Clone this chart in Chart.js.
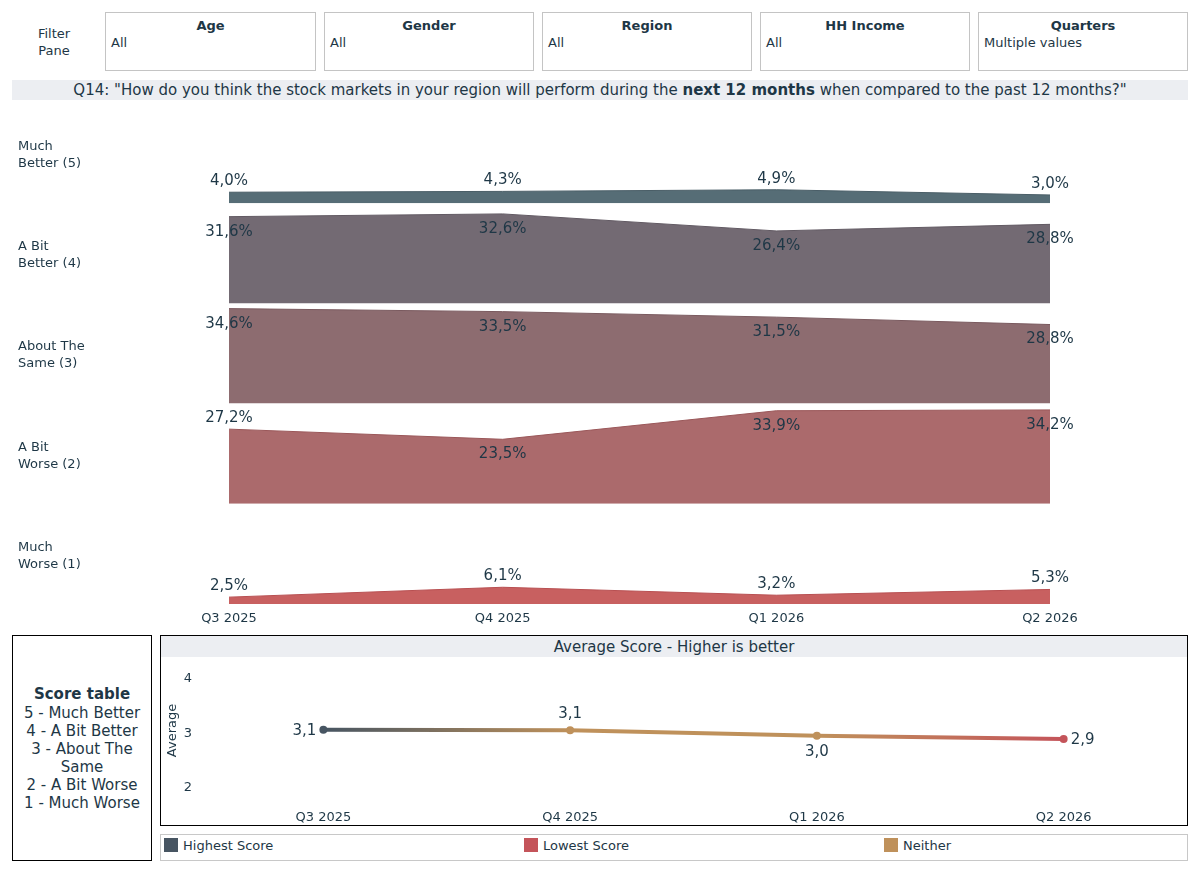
<!DOCTYPE html>
<html>
<head>
<meta charset="utf-8">
<script src="https://cdn.jsdelivr.net/npm/chart.js@4.4.1/dist/chart.umd.min.js"></script>
<style>
  body { margin:0; width:1199px; height:872px; position:relative; background:#fff; font-family:'DejaVu Sans', sans-serif; color:#1e3746; overflow:hidden; }
  .filter { position:absolute; top:12px; height:57px; border:1px solid #c4c4c4; }
  .filter .t { font-weight:bold; font-size:13px; line-height:16px; text-align:center; margin-top:5px; }
  .filter .v { font-size:13px; line-height:16px; margin-top:1px; padding-left:5px; }
  #pane { position:absolute; left:22px; top:25px; width:64px; text-align:center; font-size:13px; line-height:17px; }
  #title { position:absolute; left:12px; top:80px; width:1176px; height:20px; background:#eceef2; font-size:15px; line-height:20px; text-align:center; }
  #scoreBox { position:absolute; left:12px; top:635px; width:138px; height:224px; border:1px solid #000; text-align:center; font-size:15px; line-height:18px; }
  #scoreBox .h { font-weight:bold; line-height:19px; }
  #avgBox { position:absolute; left:160px; top:635px; width:1026px; height:189px; border:1px solid #000; }
  #avgHead { height:21px; background:#eceef2; font-size:15px; line-height:23px; text-align:center; }
  #legend { position:absolute; left:160px; top:834px; width:1026px; height:25px; border:1px solid #c8c8c8; font-size:13px; }
  .item { position:absolute; top:3px; height:14px; line-height:15px; }
  .sw { display:inline-block; width:14px; height:14px; vertical-align:top; margin-right:5px; }
</style>
</head>
<body>
<div id="pane">Filter<br>Pane</div>
<div class="filter" style="left:105px;width:209px"><div class="t">Age</div><div class="v">All</div></div>
<div class="filter" style="left:324px;width:208px"><div class="t">Gender</div><div class="v">All</div></div>
<div class="filter" style="left:542px;width:208px"><div class="t">Region</div><div class="v">All</div></div>
<div class="filter" style="left:760px;width:208px"><div class="t">HH Income</div><div class="v">All</div></div>
<div class="filter" style="left:978px;width:208px"><div class="t">Quarters</div><div class="v">Multiple values</div></div>
<div id="title">Q14: "How do you think the stock markets in your region will perform during the <b>next 12 months</b> when compared to the past 12 months?"</div>

<canvas id="rows" width="1176" height="530" style="position:absolute;left:12px;top:103px"></canvas>

<div id="scoreBox"><div style="height:49px"></div><div class="h">Score table</div>5 - Much Better<br>4 - A Bit Better<br>3 - About The Same<br>2 - A Bit Worse<br>1 - Much Worse</div>
<div id="avgBox">
  <div id="avgHead">Average Score - Higher is better</div>
  <canvas id="avg" width="1030" height="167" style="display:block"></canvas>
</div>
<div id="legend"></div>

<script>
// data
const quarters = ['Q3 2025', 'Q4 2025', 'Q1 2026', 'Q2 2026'];
const rowLabels = [['Much', 'Better (5)'], ['A Bit', 'Better (4)'], ['About The', 'Same (3)'], ['A Bit', 'Worse (2)'], ['Much', 'Worse (1)']];
const muchBetter = [4.0, 4.3, 4.9, 3.0];
const aBitBetter = [31.6, 32.6, 26.4, 28.8];
const aboutSame = [34.6, 33.5, 31.5, 28.8];
const aBitWorse = [27.2, 23.5, 33.9, 34.2];
const muchWorse = [2.5, 6.1, 3.2, 5.3];
const averageScore = [3.07, 3.06, 2.96, 2.90];
const avgTicks = [2, 3, 4];
const legendNames = ['Highest Score', 'Lowest Score', 'Neither'];

// styles
const TEXT = '#1e3746';
const HIGH = '#475562', LOW = '#c4545a', NEITHER = '#bf915b';
const rowFill = ['#566d76', '#736a73', '#8d6c70', '#ab6a6c', '#c86060'];
const rowLine = ['#4a5e67', '#625a63', '#7a5a5f', '#9a5759', '#b85052'];
const ROW_MAX = 36.5;

Chart.defaults.font.family = "'DejaVu Sans', sans-serif";
Chart.defaults.color = TEXT;

const fmt = v => v.toFixed(1).replace('.', ',');
const noPad = ax => { ax.paddingTop = 0; ax.paddingBottom = 0; ax.paddingLeft = 0; ax.paddingRight = 0; };

// legend
const legendColors = [HIGH, LOW, NEITHER];
document.getElementById('legend').innerHTML = legendNames.map((n, i) =>
  '<div class="item" style="left:' + (3 + i * 360) + 'px"><span class="sw" style="background:' + legendColors[i] + '"></span>' + n + '</div>'
).join('');

// ridge rows
const rowSeries = [muchBetter, aBitBetter, aboutSame, aBitWorse, muchWorse];

const pctLabels = {
  id: 'pctLabels',
  afterDatasetsDraw(chart) {
    const ctx = chart.ctx;
    ctx.save();
    ctx.font = "15px 'DejaVu Sans'";
    ctx.fillStyle = TEXT;
    ctx.textAlign = 'center';
    ctx.textBaseline = 'middle';
    chart.data.datasets.forEach((ds, i) => {
      const sc = chart.scales[ds.yAxisID];
      chart.getDatasetMeta(i).data.forEach((pt, j) => {
        const v = ds.data[j];
        const interior = j > 0 && j < ds.data.length - 1;
        const localMin = interior && v < ds.data[j - 1] && v < ds.data[j + 1];
        const roomAbove = pt.y - 23 >= sc.top;
        const below = (localMin && sc.bottom - pt.y > 30) ? true : !roomAbove;
        ctx.fillText(fmt(v) + '%', pt.x, below ? pt.y + 15 : pt.y - 11);
      });
    });
    ctx.restore();
  }
};

const rowScales = {
  x: {
    type: 'category',
    offset: false,
    grid: { display: false, drawTicks: false },
    border: { display: false },
    ticks: { padding: 7, font: { size: 13 }, maxRotation: 0 },
    afterFit: ax => { ax.height = 29; }
  }
};
rowSeries.forEach((s, i) => {
  rowScales['r' + i] = {
    type: 'linear',
    position: 'left',
    stack: 'rows',
    stackWeight: 1,
    weight: 10 - i,
    min: 0,
    max: ROW_MAX,
    grid: { display: false, drawTicks: false },
    border: { display: false },
    afterBuildTicks: ax => { ax.ticks = [{ value: ROW_MAX / 2 }]; },
    afterFit: ax => { ax.width = 211; noPad(ax); },
    ticks: {
      crossAlign: 'far',
      padding: 0,
      labelOffset: 2,
      font: { size: 13, lineHeight: 1.3 },
      callback: () => rowLabels[i]
    }
  };
});

new Chart(document.getElementById('rows'), {
  type: 'line',
  data: {
    labels: quarters,
    datasets: rowSeries.map((s, i) => ({
      data: s,
      yAxisID: 'r' + i,
      fill: 'origin',
      backgroundColor: rowFill[i],
      borderColor: rowLine[i],
      borderWidth: 1,
      pointRadius: 0,
      tension: 0
    }))
  },
  options: {
    responsive: false,
    animation: false,
    layout: { padding: { left: 6, right: 138, top: 0, bottom: 0 } },
    scales: rowScales,
    plugins: { legend: { display: false }, tooltip: { enabled: false } }
  },
  plugins: [pctLabels]
});

// average score
const hi = Math.max(...averageScore), lo = Math.min(...averageScore);
const avgColors = averageScore.map(v => v === hi ? HIGH : v === lo ? LOW : NEITHER);

const avgLabels = {
  id: 'avgLabels',
  afterDatasetsDraw(chart) {
    const ctx = chart.ctx;
    const d = averageScore;
    ctx.save();
    ctx.font = "15px 'DejaVu Sans'";
    ctx.fillStyle = TEXT;
    ctx.textBaseline = 'middle';
    chart.getDatasetMeta(0).data.forEach((pt, i) => {
      const txt = fmt(d[i]);
      if (i === 0) {
        ctx.textAlign = 'right';
        ctx.fillText(txt, pt.x - 7, pt.y + 1);
      } else if (i === d.length - 1) {
        ctx.textAlign = 'left';
        ctx.fillText(txt, pt.x + 7, pt.y + 1);
      } else {
        ctx.textAlign = 'center';
        const mid = (d[i - 1] + d[i + 1]) / 2;
        ctx.fillText(txt, pt.x, d[i] >= mid ? pt.y - 16 : pt.y + 16);
      }
    });
    ctx.restore();
  }
};

new Chart(document.getElementById('avg'), {
  type: 'line',
  data: {
    labels: quarters,
    datasets: [{
      data: averageScore,
      borderWidth: 4,
      borderColor: (c) => {
        const chart = c.chart;
        const xs = chart.scales.x;
        if (!chart.chartArea || !xs) return NEITHER;
        const x0 = xs.getPixelForValue(0), x1 = xs.getPixelForValue(averageScore.length - 1);
        const g = chart.ctx.createLinearGradient(x0, 0, x1, 0);
        avgColors.forEach((col, i) => g.addColorStop((xs.getPixelForValue(i) - x0) / (x1 - x0), col));
        return g;
      },
      pointRadius: 4,
      pointBorderWidth: 0,
      pointBackgroundColor: avgColors,
      tension: 0
    }]
  },
  options: {
    responsive: false,
    animation: false,
    layout: { padding: { left: 0, right: 0, top: 3, bottom: 0 } },
    scales: {
      x: {
        type: 'category',
        offset: true,
        grid: { display: false, drawTicks: false },
        border: { display: false },
        ticks: { padding: 10, font: { size: 13 }, maxRotation: 0 },
        afterFit: ax => { ax.height = 24; noPad(ax); }
      },
      y: {
        min: 1.78,
        max: 4.33,
        grid: { display: false, drawTicks: false },
        border: { display: false },
        afterBuildTicks: ax => { ax.ticks = avgTicks.map(v => ({ value: v })); },
        afterFit: ax => { ax.width = 39; noPad(ax); },
        ticks: { padding: 8, font: { size: 13 } },
        title: { display: true, text: 'Average', font: { size: 13 }, padding: { top: 4, bottom: 0 } }
      }
    },
    plugins: { legend: { display: false }, tooltip: { enabled: false } }
  },
  plugins: [avgLabels]
});
</script>
</body>
</html>
